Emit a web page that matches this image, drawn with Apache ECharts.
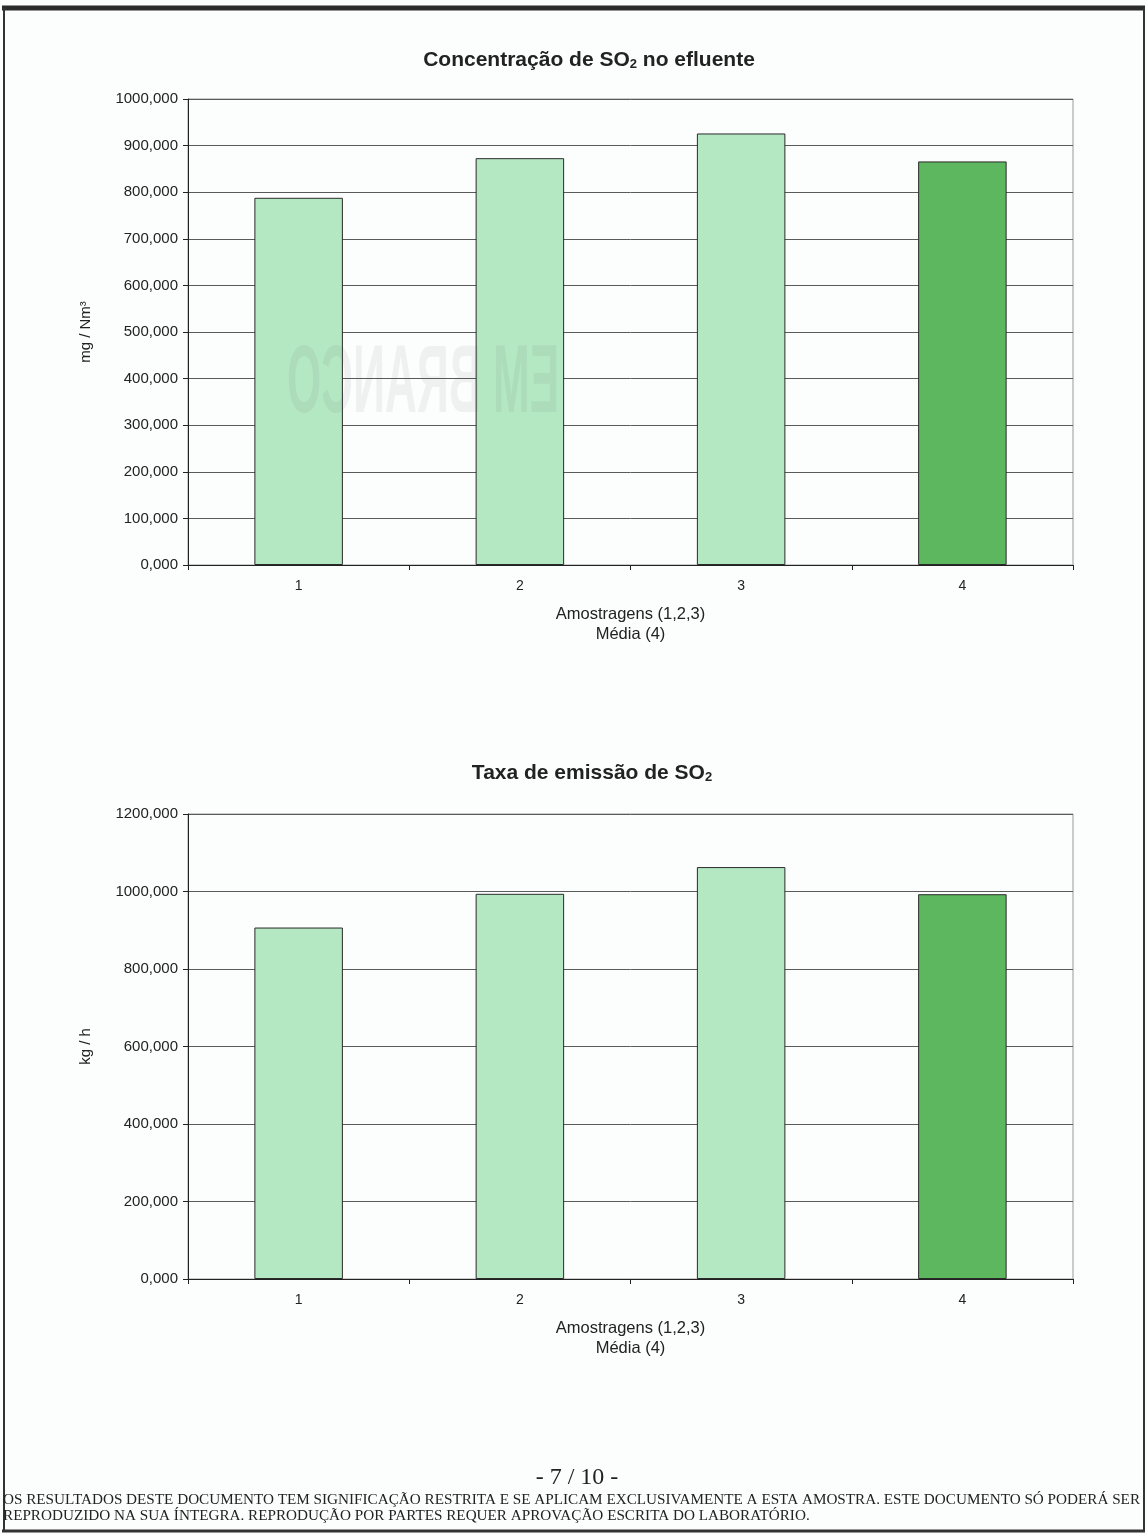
<!DOCTYPE html>
<html>
<head>
<meta charset="utf-8">
<title>SO2</title>
<script src="https://cdn.jsdelivr.net/npm/echarts@6/dist/echarts.min.js"></script>
<style>
  html, body { margin: 0; padding: 0; background: #fcfdfd; }
  #page { width: 1147px; height: 1534px; }
</style>
</head>
<body>
<div id="page"></div>
<script>
// Sample numbers: 1, 2, 3 are the three samplings, 4 is their mean
const categories = ['1', '2', '3', '4'];

// Concentração de SO2 no efluente (mg / Nm³)
const concentrationValues = [788, 873, 926, 866];
const concentrationTicks = { min: 0, max: 1000, interval: 100 };

// Taxa de emissão de SO2 (kg / h)
const emissionValues = [907, 994, 1063, 993];
const emissionTicks = { min: 0, max: 1200, interval: 200 };

const LIGHT_GREEN = '#b4e8c3';
const DARK_GREEN = '#5db75f';
const AXIS_FONT = 'Liberation Sans, Arial, sans-serif';

function fmt(v) {
  return v.toFixed(3).replace('.', ',');
}

function barColor(p) {
  return p.dataIndex === categories.length - 1 ? DARK_GREEN : LIGHT_GREEN;
}

function xAxisFor(gridIndex) {
  return {
    type: 'category',
    gridIndex: gridIndex,
    data: categories,
    name: 'Amostragens (1,2,3)\nMédia (4)',
    nameLocation: 'middle',
    nameGap: 39,
    nameTextStyle: { fontFamily: AXIS_FONT, fontSize: 16.5, color: '#222', lineHeight: 20, verticalAlign: 'top' },
    axisLine: { show: true, lineStyle: { color: '#222', width: 1 } },
    axisTick: { show: true, alignWithLabel: false, length: 5, lineStyle: { color: '#222' } },
    axisLabel: { fontFamily: AXIS_FONT, fontSize: 14, color: '#222', margin: 14 },
    splitLine: { show: false }
  };
}

function yAxisFor(gridIndex, ticks, unit) {
  return {
    type: 'value',
    gridIndex: gridIndex,
    min: ticks.min,
    max: ticks.max,
    interval: ticks.interval,
    name: unit,
    nameLocation: 'middle',
    nameGap: 95,
    nameRotate: 90,
    nameTextStyle: { fontFamily: AXIS_FONT, fontSize: 15, color: '#222' },
    axisLine: { show: true, lineStyle: { color: '#222', width: 1 } },
    axisTick: { show: true, length: 5, lineStyle: { color: '#222' } },
    axisLabel: { fontFamily: AXIS_FONT, fontSize: 15, color: '#222', margin: 10, formatter: fmt },
    splitLine: { show: true, lineStyle: { color: '#5a5a5a', width: 1 } }
  };
}

function barSeries(index, values) {
  return {
    type: 'bar',
    xAxisIndex: index,
    yAxisIndex: index,
    data: values,
    barCategoryGap: '60%',
    itemStyle: { color: barColor, borderColor: '#2a2a2a', borderWidth: 1 },
    emphasis: { disabled: true },
    z: 3
  };
}

const titleRich = {
  b: { fontFamily: AXIS_FONT, fontWeight: 'bold', fontSize: 21, fill: '#222' },
  sub: { fontFamily: AXIS_FONT, fontWeight: 'bold', fontSize: 13, fill: '#222', padding: [9, 0, 0, 0] }
};

const chart = echarts.init(document.getElementById('page'), null, { renderer: 'canvas' });

chart.setOption({
  backgroundColor: '#fcfdfd',
  animation: false,
  grid: [
    { left: 188, right: 74, top: 99, height: 466, show: true, borderColor: '#9a9a9a', borderWidth: 1, backgroundColor: 'transparent' },
    { left: 188, right: 74, top: 814, height: 465, show: true, borderColor: '#9a9a9a', borderWidth: 1, backgroundColor: 'transparent' }
  ],
  xAxis: [xAxisFor(0), xAxisFor(1)],
  yAxis: [
    yAxisFor(0, concentrationTicks, 'mg / Nm³'),
    yAxisFor(1, emissionTicks, 'kg / h')
  ],
  series: [
    barSeries(0, concentrationValues),
    barSeries(1, emissionValues)
  ],
  graphic: [
    // page frame
    { type: 'line', shape: { x1: 2, y1: 8, x2: 1145, y2: 8 }, style: { stroke: '#2b2b2b', lineWidth: 5 } },
    { type: 'line', shape: { x1: 4, y1: 8, x2: 4, y2: 1531 }, style: { stroke: '#333', lineWidth: 2 } },
    { type: 'line', shape: { x1: 1144, y1: 8, x2: 1144, y2: 1531 }, style: { stroke: '#333', lineWidth: 2 } },
    { type: 'line', shape: { x1: 2, y1: 1531, x2: 1145, y2: 1531 }, style: { stroke: '#333', lineWidth: 3 } },
    // chart titles
    {
      type: 'text', x: 589, y: 60,
      style: { text: '{b|Concentração de SO}{sub|2}{b| no efluente}', rich: titleRich, align: 'center', verticalAlign: 'middle' }
    },
    {
      type: 'text', x: 592, y: 773,
      style: { text: '{b|Taxa de emissão de SO}{sub|2}', rich: titleRich, align: 'center', verticalAlign: 'middle' }
    },
    // mirrored stamp showing through the paper
    {
      type: 'text', x: 423, y: 386, scaleX: -0.46, z: 10,
      style: {
        text: 'EM BRANCO',
        font: 'bold 96px "Liberation Sans", Arial, sans-serif',
        fill: 'rgba(90,90,90,0.08)',
        shadowColor: 'rgba(90,90,90,0.25)', shadowBlur: 4,
        align: 'center', verticalAlign: 'middle'
      }
    },
    // page footer
    {
      type: 'text', x: 577, y: 1478,
      style: { text: '- 7 / 10 -', font: '24px "Liberation Serif", "Times New Roman", serif', fill: '#222', align: 'center', verticalAlign: 'middle' }
    },
    {
      type: 'text', x: 3, y: 1500,
      style: {
        text: 'OS RESULTADOS DESTE DOCUMENTO TEM SIGNIFICAÇÃO RESTRITA E SE APLICAM EXCLUSIVAMENTE A ESTA AMOSTRA. ESTE DOCUMENTO SÓ PODERÁ SER',
        font: '15.2px "Liberation Serif", "Times New Roman", serif', fill: '#222', align: 'left', verticalAlign: 'middle'
      }
    },
    {
      type: 'text', x: 3, y: 1516,
      style: {
        text: 'REPRODUZIDO NA SUA ÍNTEGRA. REPRODUÇÃO POR PARTES REQUER APROVAÇÃO ESCRITA DO LABORATÓRIO.',
        font: '15.2px "Liberation Serif", "Times New Roman", serif', fill: '#222', align: 'left', verticalAlign: 'middle'
      }
    }
  ]
});
</script>
</body>
</html>
